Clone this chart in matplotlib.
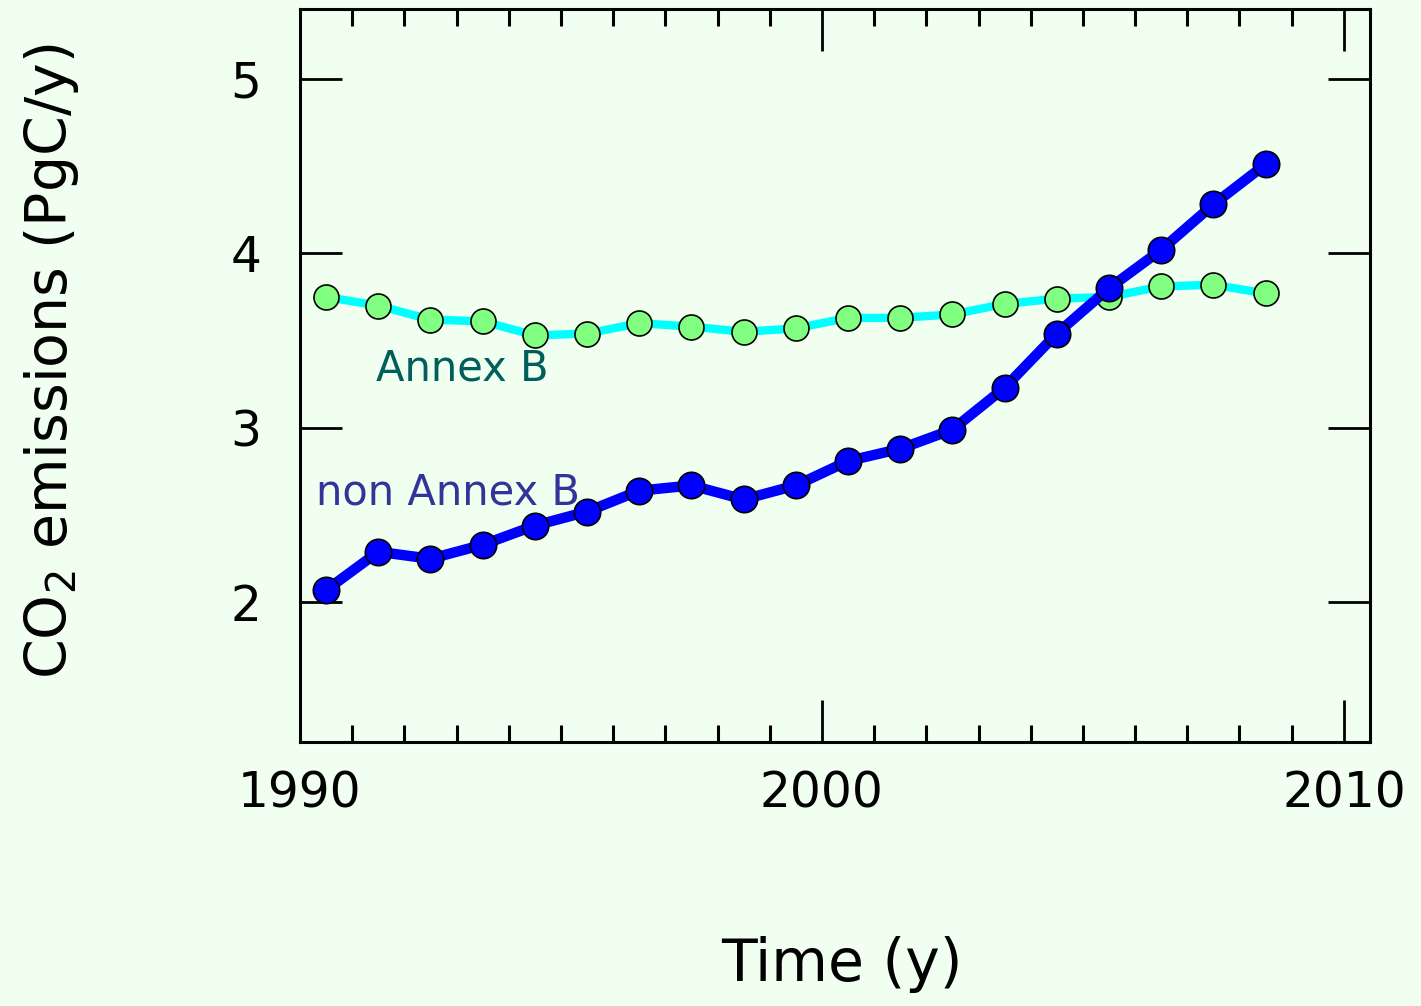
import matplotlib.pyplot as plt
from matplotlib.ticker import MultipleLocator

# yearly values, plotted at mid-year
years = [1990.5, 1991.5, 1992.5, 1993.5, 1994.5, 1995.5, 1996.5, 1997.5,
         1998.5, 1999.5, 2000.5, 2001.5, 2002.5, 2003.5, 2004.5, 2005.5,
         2006.5, 2007.5, 2008.5]
annex_b = [3.75, 3.70, 3.62, 3.61, 3.53, 3.54, 3.60, 3.58, 3.55, 3.57,
           3.63, 3.63, 3.65, 3.71, 3.74, 3.75, 3.81, 3.82, 3.77]
non_annex_b = [2.07, 2.29, 2.25, 2.33, 2.44, 2.52, 2.64, 2.67, 2.59, 2.67,
               2.81, 2.88, 2.99, 3.23, 3.54, 3.80, 4.02, 4.28, 4.51]

x_ticks = [1990, 2000, 2010]
y_ticks = [2, 3, 4, 5]

bg = '#f0fff0'

fig = plt.figure(figsize=(14.21, 10.06), dpi=100, facecolor=bg)
ax = fig.add_axes([0.2111, 0.2624, 0.7530, 0.7287], facecolor=bg)

ax.plot(years, annex_b, color='#00ffff', linewidth=6, zorder=2)
ax.plot(years, annex_b, 'o', color='#80ff80', markersize=18,
        markeredgecolor='black', markeredgewidth=1.2, zorder=3)
ax.plot(years, non_annex_b, color='#0000ff', linewidth=7.5, zorder=4)
ax.plot(years, non_annex_b, 'o', color='#0000ff', markersize=19,
        markeredgecolor='black', markeredgewidth=1.2, zorder=5)

ax.text(1991.45, 3.34, 'Annex B', color='#005f5a', fontsize=30,
        ha='left', va='center')
ax.text(1990.3, 2.63, 'non Annex B', color='#333399', fontsize=30,
        ha='left', va='center')

ax.set_xlim(1990, 2010.5)
ax.set_ylim(1.2, 5.4)
ax.set_xticks(x_ticks)
ax.set_yticks(y_ticks)
ax.xaxis.set_minor_locator(MultipleLocator(1))

ax.tick_params(axis='both', which='major', direction='in', length=30,
               width=2, top=True, right=True, labelsize=35)
ax.tick_params(axis='x', which='minor', direction='in', length=12,
               width=2.2, top=True)
ax.tick_params(axis='x', which='major', pad=20)
ax.tick_params(axis='y', which='major', pad=28)
for s in ax.spines.values():
    s.set_linewidth(2.2)

ax.set_xlabel('Time (y)', fontsize=42, va='center')
ax.xaxis.set_label_coords(0.506, -0.304)
ax.set_ylabel('CO$_2$ emissions (PgC/y)', fontsize=41, va='center')
ax.yaxis.set_label_coords(-0.232, 0.52)

fig.savefig('out.png', dpi=100, facecolor=bg)
